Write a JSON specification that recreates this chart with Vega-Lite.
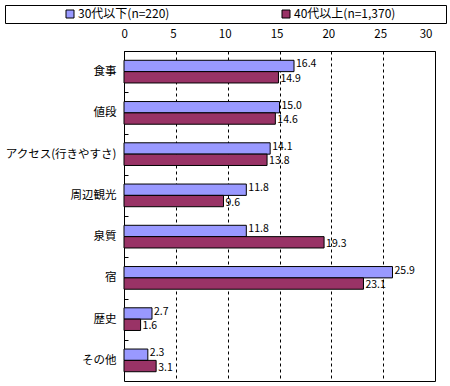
{
  "$schema": "https://vega.github.io/schema/vega-lite/v6.json",
  "autosize": {"type": "none"},
  "width": 311,
  "height": 330,
  "padding": {"left": 124, "top": 51, "right": 15, "bottom": 5},
  "background": "white",
  "config": {
    "font": "Noto Sans CJK JP",
    "view": {"stroke": "black", "strokeWidth": 1},
    "axis": {"labelFont": "Noto Sans CJK JP", "labelColor": "black"}
  },
  "data": {
    "values": [
      {"item": "食事", "group": "30代以下(n=220)", "value": 16.4},
      {"item": "食事", "group": "40代以上(n=1,370)", "value": 14.9},
      {"item": "値段", "group": "30代以下(n=220)", "value": 15.0},
      {"item": "値段", "group": "40代以上(n=1,370)", "value": 14.6},
      {"item": "アクセス(行きやすさ)", "group": "30代以下(n=220)", "value": 14.1},
      {"item": "アクセス(行きやすさ)", "group": "40代以上(n=1,370)", "value": 13.8},
      {"item": "周辺観光", "group": "30代以下(n=220)", "value": 11.8},
      {"item": "周辺観光", "group": "40代以上(n=1,370)", "value": 9.6},
      {"item": "泉質", "group": "30代以下(n=220)", "value": 11.8},
      {"item": "泉質", "group": "40代以上(n=1,370)", "value": 19.3},
      {"item": "宿", "group": "30代以下(n=220)", "value": 25.9},
      {"item": "宿", "group": "40代以上(n=1,370)", "value": 23.1},
      {"item": "歴史", "group": "30代以下(n=220)", "value": 2.7},
      {"item": "歴史", "group": "40代以上(n=1,370)", "value": 1.6},
      {"item": "その他", "group": "30代以下(n=220)", "value": 2.3},
      {"item": "その他", "group": "40代以上(n=1,370)", "value": 3.1}
    ]
  },
  "encoding": {
    "y": {
      "field": "item",
      "type": "nominal",
      "sort": null,
      "scale": {"paddingInner": 0.45, "paddingOuter": 0.225},
      "axis": {
        "title": null,
        "domain": false,
        "ticks": true,
        "tickSize": -4,
        "tickColor": "black",
        "tickOffset": -20.6,
        "labelOffset": 20.6,
        "labelPadding": 12,
        "labelFontSize": 11.5,
        "labelLimit": 200
      }
    },
    "yOffset": {"field": "group", "type": "nominal", "scale": {"paddingInner": 0, "paddingOuter": 0}},
    "x": {
      "field": "value",
      "type": "quantitative",
      "scale": {"domain": [0, 30]},
      "axis": {
        "orient": "top",
        "title": null,
        "domain": false,
        "ticks": false,
        "values": [0, 5, 10, 15, 20, 25, 30],
        "labelPadding": 12,
        "labelOffset": -3,
        "labelFontSize": 11.5,
        "grid": true,
        "gridColor": "black",
        "gridDash": [3, 3],
        "gridOpacity": 1
      }
    }
  },
  "layer": [
    {
      "mark": {"type": "bar", "stroke": "black", "strokeWidth": 1, "cornerRadius": 0},
      "encoding": {
        "color": {
          "field": "group",
          "type": "nominal",
          "scale": {"range": ["#9999FF", "#993366"]},
          "legend": {
            "title": " ",
            "titleOrient": "right",
            "titlePadding": 48,
            "orient": "none",
            "direction": "horizontal",
            "legendX": -119,
            "legendY": -46,
            "padding": 3,
            "strokeColor": "black",
            "symbolType": "square",
            "symbolSize": 64,
            "symbolStrokeColor": "black",
            "symbolStrokeWidth": 1,
            "symbolOpacity": 1,
            "symbolOffset": 56,
            "labelOffset": 2,
            "columnPadding": 54,
            "labelFontSize": 12,
            "labelColor": "black",
            "labelFont": "Noto Sans CJK JP"
          }
        }
      }
    },
    {
      "transform": [{"filter": "datum.group === '30代以下(n=220)'"}],
      "mark": {"type": "text", "align": "left", "baseline": "middle", "dx": 2, "dy": -1.5, "fontSize": 10.5, "color": "black"},
      "encoding": {
        "text": {"field": "value", "type": "quantitative", "format": ".1f"}
      }
    },
    {
      "transform": [{"filter": "datum.group === '40代以上(n=1,370)'"}],
      "mark": {"type": "text", "align": "left", "baseline": "middle", "dx": 2, "dy": 1.5, "fontSize": 10.5, "color": "black"},
      "encoding": {
        "text": {"field": "value", "type": "quantitative", "format": ".1f"}
      }
    }
  ]
}
